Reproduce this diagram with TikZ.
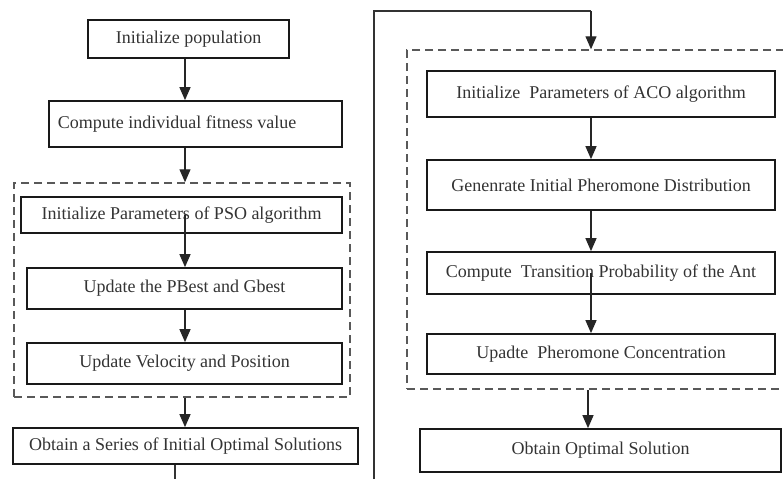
\documentclass[tikz,border=0pt]{standalone}
\usepackage{fontspec}
\setmainfont{Liberation Serif}
\usetikzlibrary{arrows.meta,calc}
\begin{document}
\begin{tikzpicture}[x=1pt,y=-1pt,
  box/.style={draw=black!90,line width=1.7pt,inner sep=0pt,minimum height=#1,
    font=\fontsize{18}{20}\selectfont,text=black!80},
  grp/.style={draw=black!65,line width=1.5pt,dash pattern=on 8pt off 5pt},
  arr/.style={draw=black!85,line width=1.3pt,-{Triangle[length=13pt,width=11pt]}},
  ln/.style={draw=black!80,line width=1.3pt}]
\useasboundingbox (0,0) rectangle (783,479);
% left column
\node[box=38pt,minimum width=201pt] (pop) at (188.5,39) {Initialize population};
\node[box=46pt,minimum width=293pt] (fit) at (195.5,124) {Compute individual fitness value\rule{37pt}{0pt}};
\node[box=36pt,minimum width=321pt] (pso) at (181.5,215) {Initialize Parameters of PSO algorithm};
\node[box=41pt,minimum width=315pt] (pb) at (184.5,288.5) {Update the PBest and Gbest};
\node[box=41pt,minimum width=315pt] (vel) at (184.5,363.5) {Update Velocity and Position};
\node[box=36pt,minimum width=345pt] (ser) at (185.5,446) {Obtain a Series of Initial Optimal Solutions};
\node[grp,inner sep=0pt,minimum width=336pt,minimum height=214pt] (lg) at (182,290) {};
% right column
\node[box=46pt,minimum width=348pt] (aco) at (601,94) {Initialize~~Parameters of ACO algorithm};
\node[box=50pt,minimum width=348pt] (gen) at (601,185) {Genenrate Initial Pheromone Distribution};
\node[box=42pt,minimum width=348pt] (tra) at (601,273) {Compute~~Transition Probability of the Ant};
\node[box=40pt,minimum width=348pt] (upd) at (601,354) {Upadte~~Pheromone Concentration};
\node[box=43pt,minimum width=361pt] (opt) at (600.5,450.5) {Obtain Optimal Solution};
\begin{scope}
\clip (0,0) rectangle (783,479);
\node[grp,inner sep=0pt,minimum width=383pt,minimum height=339pt] (rg) at (598.5,219.5) {};
\end{scope}
% connector x positions
\coordinate (ax) at (185,0);
\coordinate (bx) at (591,0);
\coordinate (cx) at (588,0);
\coordinate (dx) at (175,0);
\coordinate (lx) at (374,0);
\coordinate (top) at (0,11);
\coordinate (bot) at (0,479);
% left arrows
\draw[arr] (pop.south -| ax) -- (fit.north -| ax);
\draw[arr] (fit.south -| ax) -- (lg.north -| ax);
\draw[arr] (pso.center -| ax) -- (pb.north -| ax);
\draw[arr] (pb.south -| ax) -- (vel.north -| ax);
\draw[arr] (lg.south -| ax) -- (ser.north -| ax);
\draw[ln] (ser.south -| dx) -- (bot -| dx);
% right arrows
\draw[ln] (bot -| lx) -- (top -| lx) -- (top -| bx);
\draw[arr] (top -| bx) -- (rg.north -| bx);
\draw[arr] (aco.south -| bx) -- (gen.north -| bx);
\draw[arr] (gen.south -| bx) -- (tra.north -| bx);
\draw[arr] (tra.center -| bx) -- (upd.north -| bx);
\draw[arr] (rg.south -| cx) -- (opt.north -| cx);
\end{tikzpicture}
\end{document}
